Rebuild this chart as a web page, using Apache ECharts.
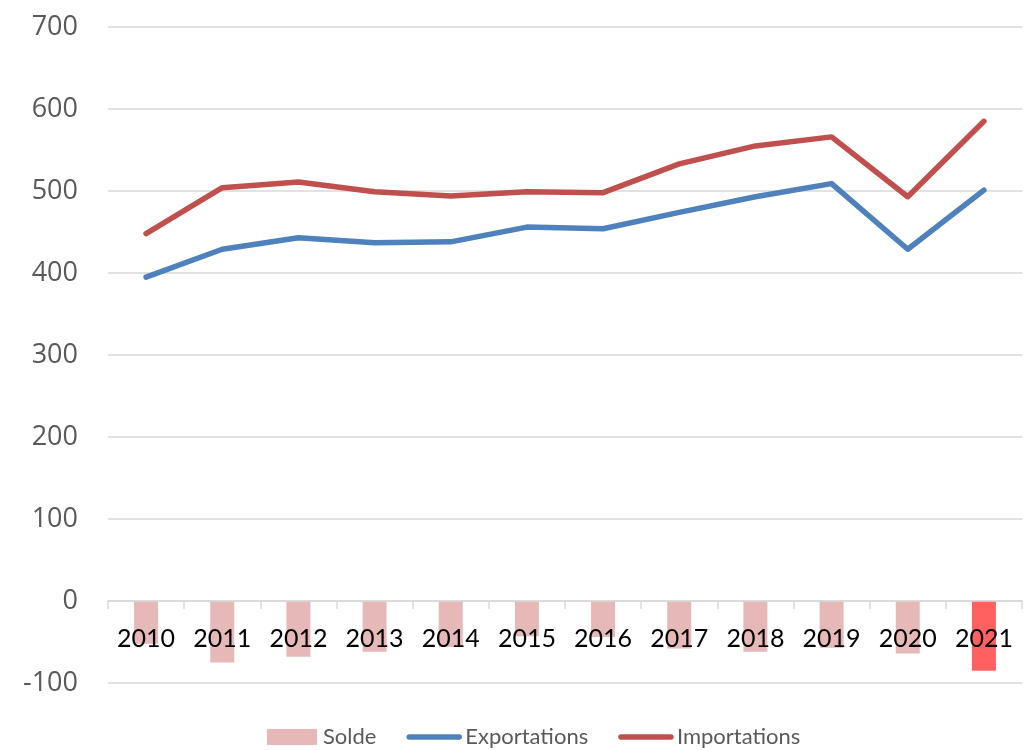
<!DOCTYPE html>
<html>
<head>
<meta charset="utf-8">
<script src="https://cdn.jsdelivr.net/npm/echarts@6/dist/echarts.min.js"></script>
<style>
html,body{margin:0;padding:0;background:#fff;}
#main{width:1033px;height:750px;}
</style>
</head>
<body>
<div id="main"></div>
<script>
var years = ['2010','2011','2012','2013','2014','2015','2016','2017','2018','2019','2020','2021'];
var exportations = [395, 429, 443, 437, 438, 456, 454, 474, 493, 509, 429, 501];
var importations = [448, 504, 511, 499, 494, 499, 498, 533, 555, 566, 493, 585];
var solde = [-52, -75, -68, -62, -56, -43, -44, -58, -62, -57, -64, -85];

var soldeData = solde.map(function (v, i) {
  if (i == solde.length - 1) {
    return {value: v, itemStyle: {color: '#FF6161'}};
  }
  return v;
});

var myChart = echarts.init(document.getElementById('main'));

var option = {
  backgroundColor: '#fff',
  animation: false,
  textStyle: {fontFamily: 'Lato'},
  grid: {left: 108, right: 11, top: 27, bottom: 67, containLabel: false},
  legend: {
    top: 721,
    left: 262,
    itemGap: 30,
    itemWidth: 50,
    itemHeight: 16,
    textStyle: {color: '#595959', fontSize: 22, fontFamily: 'Lato', padding: [0, 0, 0, 1]},
    data: [
      {name: 'Solde', icon: 'rect', itemStyle: {color: '#E6B9B8'}},
      {name: 'Exportations', itemStyle: {opacity: 0}, lineStyle: {width: 5.5, color: '#4F81BD', cap: 'round'}},
      {name: 'Importations', itemStyle: {opacity: 0}, lineStyle: {width: 5.5, color: '#C0504D', cap: 'round'}}
    ]
  },
  xAxis: {
    type: 'category',
    data: years,
    z: 10,
    axisLine: {onZero: true, lineStyle: {color: '#d9d9d9', width: 1.5}},
    axisTick: {show: true, inside: false, length: 8, lineStyle: {color: '#d9d9d9', width: 1.5}},
    axisLabel: {color: '#000', fontSize: 25, margin: -57, fontFamily: 'Lato'},
    splitLine: {show: false}
  },
  yAxis: {
    type: 'value',
    min: -100,
    max: 700,
    interval: 100,
    axisLine: {show: false},
    axisTick: {show: false},
    axisLabel: {color: '#595959', fontSize: 27, margin: 30, fontFamily: 'Open Sans'},
    splitLine: {lineStyle: {color: '#d9d9d9', width: 1.5}}
  },
  series: [
    {
      name: 'Solde',
      type: 'bar',
      data: soldeData,
      barWidth: 24,
      itemStyle: {color: '#E6B9B8'}
    },
    {
      name: 'Exportations',
      type: 'line',
      data: exportations,
      showSymbol: false,
      symbol: 'none',
      color: '#4F81BD',
      lineStyle: {color: '#4F81BD', width: 5.5, cap: 'round', join: 'round'}
    },
    {
      name: 'Importations',
      type: 'line',
      data: importations,
      showSymbol: false,
      symbol: 'none',
      color: '#C0504D',
      lineStyle: {color: '#C0504D', width: 5.5, cap: 'round', join: 'round'}
    }
  ]
};

myChart.setOption(option);
</script>
</body>
</html>
